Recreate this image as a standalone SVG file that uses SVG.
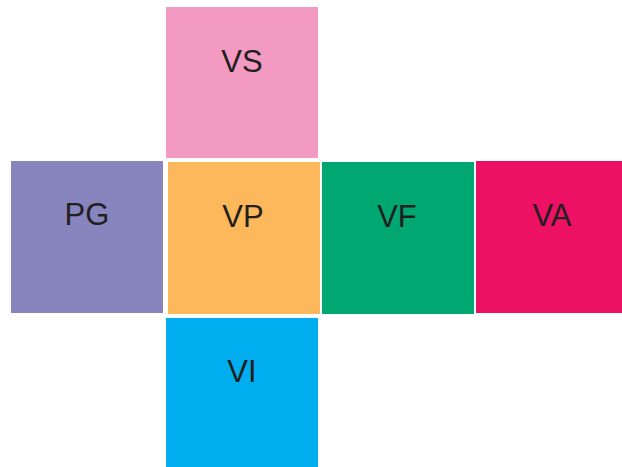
<svg xmlns="http://www.w3.org/2000/svg" width="622" height="467" viewBox="0 0 622 467">
<style>
text{font-family:"Liberation Sans",Arial,sans-serif;font-size:31px;fill:#231f20;text-anchor:middle}
</style>
<rect width="622" height="467" fill="#ffffff"/>
<g id="VS"><rect x="166" y="7" width="152" height="151" fill="#f39ac2"/><text x="242" y="72">VS</text></g>
<g id="PG"><rect x="11" y="161" width="152" height="152" fill="#8784be"/><text x="87" y="225">PG</text></g>
<g id="VP"><rect x="168" y="162" width="152" height="152" fill="#fdb85c"/><text x="243" y="227">VP</text></g>
<g id="VF"><rect x="322" y="162" width="152" height="152" fill="#00a771"/><text x="397" y="227">VF</text></g>
<g id="VA"><rect x="476" y="161" width="152" height="152" fill="#ed1164"/><text x="552" y="226">VA</text></g>
<g id="VI"><rect x="166" y="318" width="152" height="152" fill="#00aeef"/><text x="242" y="382">VI</text></g>
<g id="connectors"></g>
</svg>
